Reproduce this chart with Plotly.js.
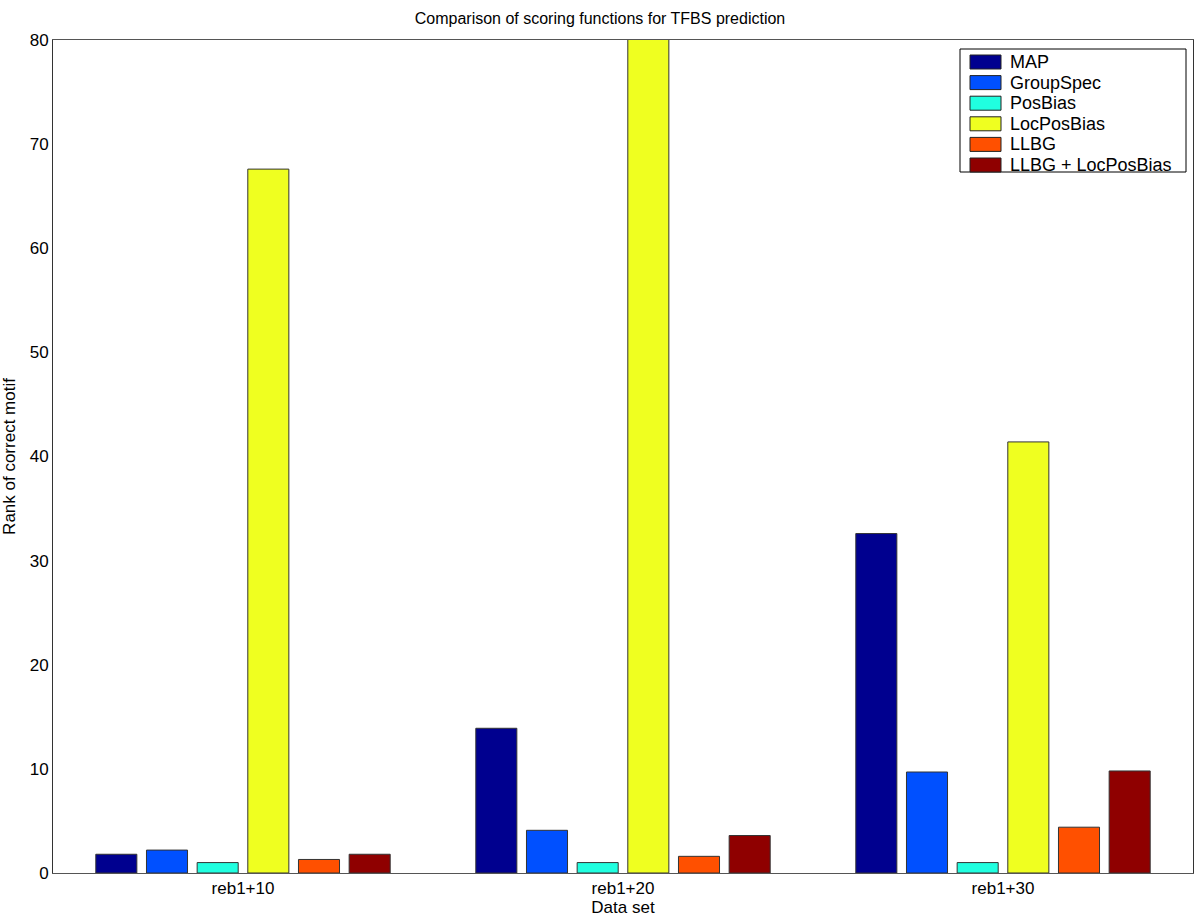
<!DOCTYPE html>
<html><head><meta charset="utf-8">
<script src="https://cdn.plot.ly/plotly-3.0.1.min.js"></script>
<style>body{margin:0;background:#fff}#c{width:1200px;height:920px}</style>
</head><body><div id="c"></div>
<script>
const categories = ["reb1+10", "reb1+20", "reb1+30"];
const seriesNames = ["MAP", "GroupSpec", "PosBias", "LocPosBias", "LLBG", "LLBG + LocPosBias"];
const MAP = [1.8, 13.9, 32.6];
const GroupSpec = [2.2, 4.1, 9.7];
const PosBias = [1.0, 1.0, 1.0];
const LocPosBias = [67.6, 85, 41.4];
const LLBG = [1.3, 1.6, 4.4];
const LLBGLocPosBias = [1.8, 3.6, 9.8];
const colors = ["#00008F", "#0050FF", "#20FFE0", "#EFFF20", "#FF5000", "#8F0000"];
const yTicks = [0, 10, 20, 30, 40, 50, 60, 70, 80];

const W = 1200, H = 920, M = {l: 53, r: 7, t: 40, b: 47};
const PW = W - M.l - M.r, PH = H - M.t - M.b;
const px = x => (x - M.l) / PW;
const py = y => (H - M.b - y) / PH;

const values = [MAP, GroupSpec, PosBias, LocPosBias, LLBG, LLBGLocPosBias];
const traces = values.map((v, i) => ({
  type: "bar", x: categories, y: v, name: seriesNames[i],
  marker: {color: colors[i], line: {color: "#333", width: 1}},
  showlegend: false
}));

const ff = "Liberation Sans, Arial, sans-serif";
// custom legend (MATLAB style wide swatches)
const shapes = [{type: "rect", xref: "paper", yref: "paper",
  x0: px(960), x1: px(1186), y0: py(49), y1: py(172),
  fillcolor: "#fff", line: {color: "#000", width: 1}, layer: "above"}];
const annotations = [];
seriesNames.forEach((n, i) => {
  const cy = 62 + i * 20.6;
  shapes.push({type: "rect", xref: "paper", yref: "paper",
    x0: px(970), x1: px(1001), y0: py(cy - 7), y1: py(cy + 7),
    fillcolor: colors[i], line: {color: "#222", width: 1}, layer: "above"});
  annotations.push({xref: "paper", yref: "paper", x: px(1008), y: py(cy),
    xanchor: "left", yanchor: "middle", showarrow: false, text: n,
    font: {family: ff, size: 18, color: "#000"}});
});

Plotly.newPlot("c", traces, {
  width: W, height: H,
  margin: M,
  paper_bgcolor: "#fff", plot_bgcolor: "#fff",
  font: {family: ff, size: 17, color: "#000"},
  barmode: "group", bargap: 0.2, bargroupgap: 0.19,
  title: {text: "Comparison of scoring functions for TFBS prediction", font: {family: ff, size: 16, color: "#000"}, x: 0.5, xanchor: "center", y: 0.98, yanchor: "middle"},
  xaxis: {
    type: "category", range: [-0.5, 2.5],
    showline: true, linecolor: "#555", linewidth: 1, mirror: true,
    ticks: "", showgrid: false, zeroline: false,
    tickfont: {family: ff, size: 17, color: "#000"},
    title: {text: "Data set", font: {family: ff, size: 17, color: "#000"}, standoff: 2}
  },
  yaxis: {
    range: [0, 80], tickvals: yTicks, ticktext: yTicks.map(String),
    showline: true, linecolor: "#333", linewidth: 1, mirror: true,
    ticks: "", showgrid: false, zeroline: false,
    tickfont: {family: ff, size: 17, color: "#000"},
    title: {text: "Rank of correct motif", font: {family: ff, size: 17, color: "#000"}, standoff: 12}
  },
  shapes: shapes,
  annotations: annotations,
  showlegend: false
}, {displayModeBar: false, staticPlot: true});
</script></body></html>
